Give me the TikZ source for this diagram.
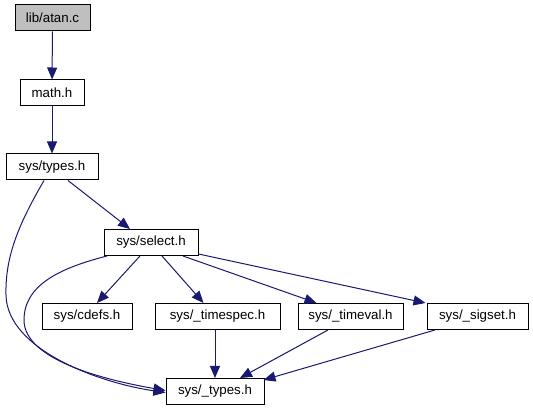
\documentclass[tikz,border=0pt]{standalone}
\usepackage{fontspec}
\setmainfont{Liberation Sans}
\usetikzlibrary{arrows.meta}
\definecolor{edgeblue}{RGB}{25,25,112}
\definecolor{curgray}{RGB}{191,191,191}
\begin{document}
\begin{tikzpicture}[x=1pt,y=-1pt,
    file/.style={draw=black,line width=1pt,fill=white,minimum height=26pt,inner sep=0pt,
      font=\fontsize{13.3}{16}\selectfont},
    edge/.style={draw=edgeblue,line width=1pt,-{Triangle[length=12pt,width=10pt]}}]
      \useasboundingbox (0,0) rectangle (533,411);

      \node[file,fill=curgray,minimum width=75pt] (atan) at (52.5,18) {lib/atan.c};
      \node[file,minimum width=64pt] (math) at (52,93) {math.h};
      \node[file,minimum width=92pt] (types) at (52,167) {sys/types.h};
      \node[file,minimum width=94pt] (select) at (151,242.5) {sys/select.h};
      \node[file,minimum width=90pt] (cdefs) at (87,316.5) {sys/cdefs.h};
      \node[file,minimum width=125pt] (timespec) at (217.5,316.5) {sys/\_timespec.h};
      \node[file,minimum width=105pt] (timeval) at (350.5,316.5) {sys/\_timeval.h};
      \node[file,minimum width=101pt] (sigset) at (477.5,316.5) {sys/\_sigset.h};
      \node[file,minimum width=98pt] (stypes) at (215,391.5) {sys/\_types.h};

      \draw[edge] (atan) -- (math);
      \draw[edge] (math) -- (types);
      \draw[edge] ([xshift=16pt]types.south) -- ([xshift=-21pt]select.north);
      \draw[edge] ([xshift=-8pt]types.south) .. controls (20,222) and (5,255) .. (6,295)
        .. controls (7,350) and (100,383) .. ([yshift=-1pt]stypes.west);
      \draw[edge] ([xshift=-44pt]select.south) .. controls (60,268) and (24,285) .. (24,320)
        .. controls (24,360) and (105,380) .. ([yshift=1pt]stypes.west);
      \draw[edge] ([xshift=-11pt]select.south) -- ([xshift=10pt]cdefs.north);
      \draw[edge] ([xshift=11pt]select.south) -- ([xshift=-14pt]timespec.north);
      \draw[edge] ([xshift=32pt]select.south) -- ([xshift=-34pt]timeval.north);
      \draw[edge] ([yshift=2pt]select.south east) -- ([xshift=-52pt]sigset.north);
      \draw[edge] ([xshift=-2.5pt]timespec.south) -- (stypes.north);
      \draw[edge] ([xshift=-22.5pt]timeval.south) -- ([xshift=25pt]stypes.north);
      \draw[edge] ([xshift=-42.5pt]sigset.south) -- ([xshift=-1pt,yshift=-2pt]stypes.north east);
    \end{tikzpicture}
\end{document}
